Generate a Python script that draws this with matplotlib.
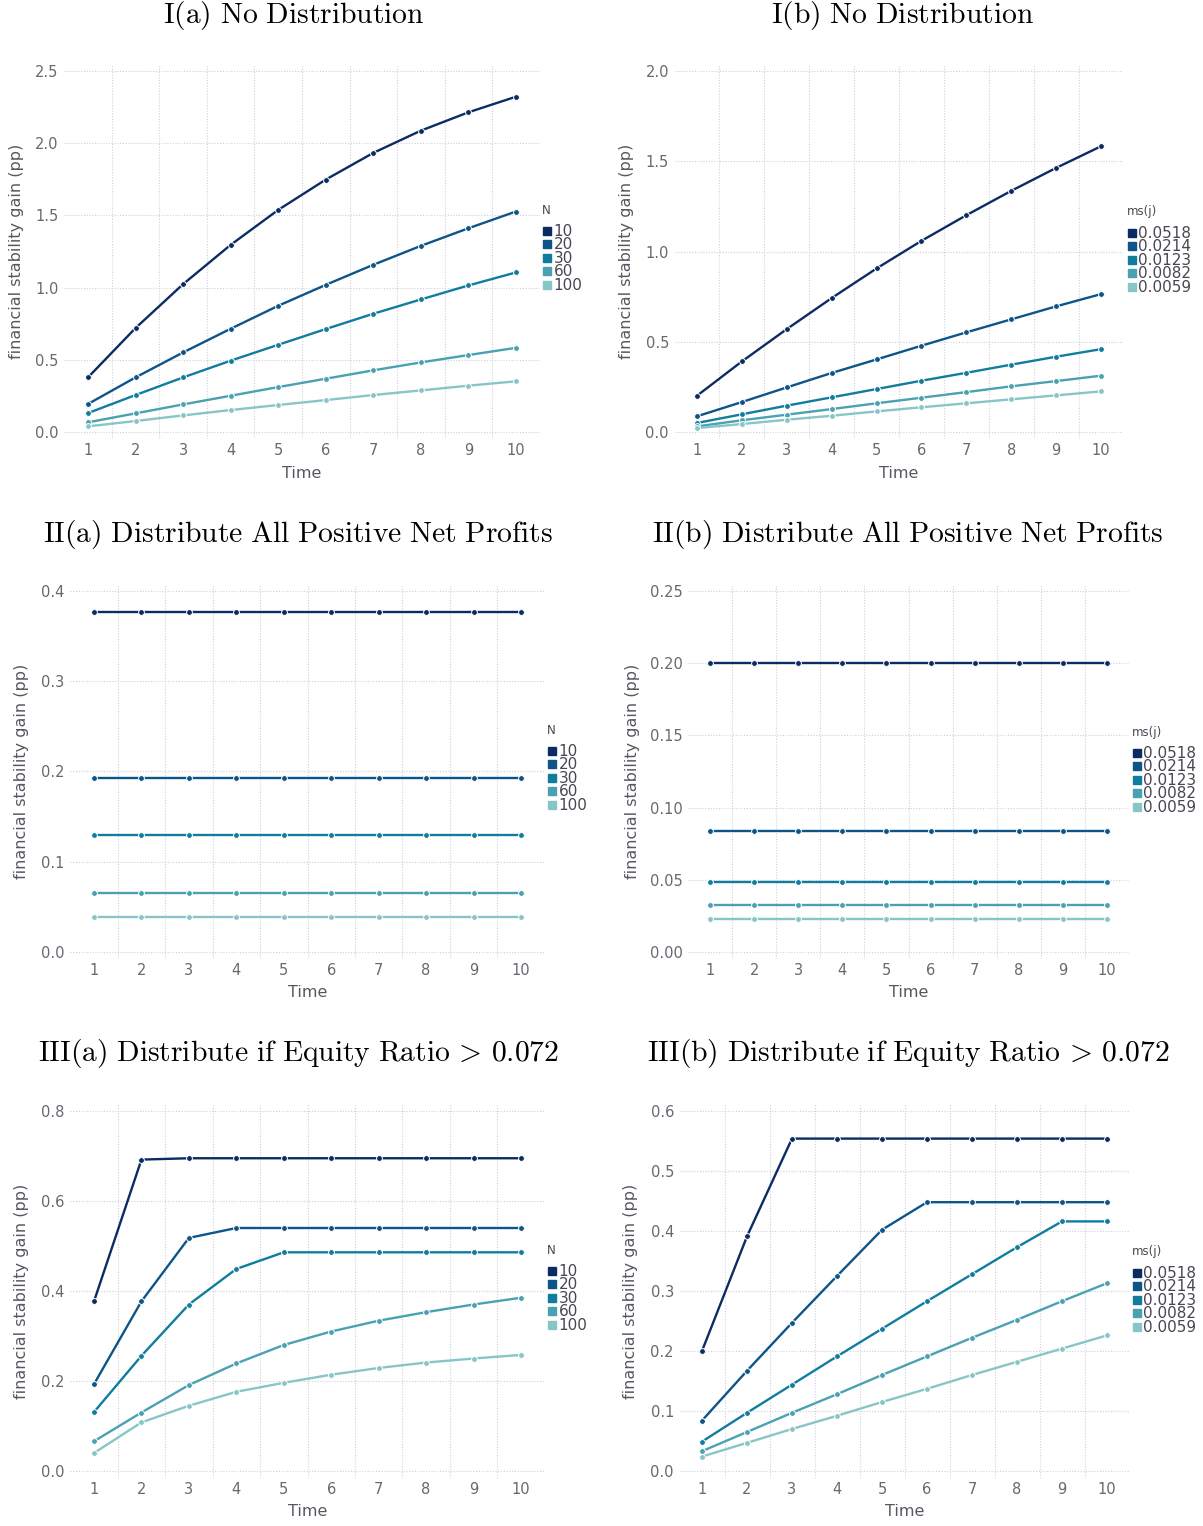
import matplotlib
matplotlib.use("Agg")
import matplotlib.pyplot as plt
from matplotlib.lines import Line2D
import numpy as np

plt.rcParams['mathtext.fontset'] = 'cm'
plt.rcParams['font.family'] = ['DejaVu Sans']

time = [1, 2, 3, 4, 5, 6, 7, 8, 9, 10]

labels_N = ["10", "20", "30", "60", "100"]
labels_ms = ["0.0518", "0.0214", "0.0123", "0.0082", "0.0059"]
colors = ["#0b2b63", "#0d5488", "#107d9e", "#4aa1b2", "#88c5c7"]

# I(a) No Distribution (by N)
Ia_10 = [0.378, 0.720, 1.024, 1.296, 1.538, 1.748, 1.933, 2.087, 2.214, 2.322]
Ia_20 = [0.194, 0.378, 0.551, 0.715, 0.874, 1.019, 1.158, 1.289, 1.411, 1.527]
Ia_30 = [0.131, 0.256, 0.378, 0.494, 0.604, 0.713, 0.819, 0.918, 1.015, 1.105]
Ia_60 = [0.067, 0.129, 0.191, 0.251, 0.311, 0.369, 0.427, 0.482, 0.533, 0.583]
Ia_100 = [0.039, 0.076, 0.115, 0.152, 0.187, 0.221, 0.256, 0.288, 0.321, 0.351]

# I(b) No Distribution (by ms(j))
Ib_0518 = [0.201, 0.391, 0.570, 0.742, 0.906, 1.059, 1.201, 1.336, 1.463, 1.583]
Ib_0214 = [0.087, 0.166, 0.247, 0.327, 0.402, 0.478, 0.552, 0.624, 0.696, 0.764]
Ib_0123 = [0.050, 0.098, 0.146, 0.192, 0.238, 0.284, 0.328, 0.373, 0.417, 0.459]
Ib_0082 = [0.031, 0.065, 0.096, 0.127, 0.159, 0.190, 0.221, 0.253, 0.282, 0.312]
Ib_0059 = [0.022, 0.044, 0.068, 0.090, 0.114, 0.137, 0.159, 0.181, 0.203, 0.225]

# II(a) Distribute All Positive Net Profits (by N)
IIa_10 = [0.377] * 10
IIa_20 = [0.193] * 10
IIa_30 = [0.130] * 10
IIa_60 = [0.065] * 10
IIa_100 = [0.039] * 10

# II(b) Distribute All Positive Net Profits (by ms(j))
IIb_0518 = [0.200] * 10
IIb_0214 = [0.084] * 10
IIb_0123 = [0.0485] * 10
IIb_0082 = [0.0325] * 10
IIb_0059 = [0.023] * 10

# III(a) Distribute if Equity Ratio > 0.072 (by N)
IIIa_10 = [0.377, 0.692, 0.695, 0.695, 0.695, 0.695, 0.695, 0.695, 0.695, 0.695]
IIIa_20 = [0.193, 0.377, 0.518, 0.540, 0.540, 0.540, 0.540, 0.540, 0.540, 0.540]
IIIa_30 = [0.131, 0.256, 0.370, 0.449, 0.486, 0.486, 0.486, 0.486, 0.486, 0.486]
IIIa_60 = [0.066, 0.130, 0.191, 0.239, 0.280, 0.310, 0.334, 0.353, 0.370, 0.385]
IIIa_100 = [0.040, 0.108, 0.145, 0.176, 0.196, 0.214, 0.229, 0.241, 0.250, 0.258]

# III(b) Distribute if Equity Ratio > 0.072 (by ms(j))
IIIb_0518 = [0.200, 0.391, 0.554, 0.554, 0.554, 0.554, 0.554, 0.554, 0.554, 0.554]
IIIb_0214 = [0.084, 0.167, 0.247, 0.325, 0.402, 0.448, 0.448, 0.448, 0.448, 0.448]
IIIb_0123 = [0.049, 0.097, 0.144, 0.191, 0.237, 0.283, 0.328, 0.373, 0.416, 0.416]
IIIb_0082 = [0.033, 0.065, 0.097, 0.128, 0.160, 0.191, 0.222, 0.252, 0.283, 0.313]
IIIb_0059 = [0.024, 0.047, 0.070, 0.092, 0.115, 0.137, 0.160, 0.182, 0.204, 0.226]

W, H = 1203, 1526
fig = plt.figure(figsize=(W / 100, H / 100), dpi=100)
fig.patch.set_facecolor("white")

TICK_COLOR = "#6b6670"
GRID_COLOR = "#cfcfe0"
LEG_COLOR = "#4a4550"

panels = [
    dict(title=r"$\mathrm{I(a)\ No\ Distribution}$", series=[Ia_10, Ia_20, Ia_30, Ia_60, Ia_100],
         labels=labels_N, ltitle="N", yticks=[0, 0.5, 1.0, 1.5, 2.0, 2.5], fmt="{:.1f}",
         px=(88, 516), py=(432, 71), title_xy=(294, 15), ylab_x=17, leg=(542, 210)),
    dict(title=r"$\mathrm{I(b)\ No\ Distribution}$", series=[Ib_0518, Ib_0214, Ib_0123, Ib_0082, Ib_0059],
         labels=labels_ms, ltitle="ms(j)", yticks=[0, 0.5, 1.0, 1.5, 2.0], fmt="{:.1f}",
         px=(697, 1101), py=(432, 71), title_xy=(903, 15), ylab_x=627, leg=(1127, 212)),
    dict(title=r"$\mathrm{II(a)\ Distribute\ All\ Positive\ Net\ Profits}$",
         series=[IIa_10, IIa_20, IIa_30, IIa_60, IIa_100],
         labels=labels_N, ltitle="N", yticks=[0, 0.1, 0.2, 0.3, 0.4], fmt="{:.1f}",
         px=(94, 521), py=(952, 591), title_xy=(298, 535), ylab_x=22, leg=(547, 730)),
    dict(title=r"$\mathrm{II(b)\ Distribute\ All\ Positive\ Net\ Profits}$",
         series=[IIb_0518, IIb_0214, IIb_0123, IIb_0082, IIb_0059],
         labels=labels_ms, ltitle="ms(j)", yticks=[0, 0.05, 0.10, 0.15, 0.20, 0.25], fmt="{:.2f}",
         px=(710, 1107), py=(952, 591), title_xy=(908, 535), ylab_x=632, leg=(1132, 732)),
    dict(title=r"$\mathrm{III(a)\ Distribute\ if\ Equity\ Ratio}\,>\,0.072$",
         series=[IIIa_10, IIIa_20, IIIa_30, IIIa_60, IIIa_100],
         labels=labels_N, ltitle="N", yticks=[0, 0.2, 0.4, 0.6, 0.8], fmt="{:.1f}",
         px=(94, 521), py=(1471, 1111), title_xy=(299, 1054), ylab_x=22, leg=(547, 1250)),
    dict(title=r"$\mathrm{III(b)\ Distribute\ if\ Equity\ Ratio}\,>\,0.072$",
         series=[IIIb_0518, IIIb_0214, IIIb_0123, IIIb_0082, IIIb_0059],
         labels=labels_ms, ltitle="ms(j)", yticks=[0, 0.1, 0.2, 0.3, 0.4, 0.5, 0.6], fmt="{:.1f}",
         px=(702, 1107), py=(1471, 1111), title_xy=(908, 1054), ylab_x=631, leg=(1132, 1252)),
]

for p in panels:
    x1, x10 = p["px"]
    y0, ytop = p["py"]
    top = p["yticks"][-1]
    xmin, xmax = 0.5, 10.5
    ymin, ymax = -0.02 * top, 1.02 * top
    sx = (x10 - x1) / 9.0
    sy = (y0 - ytop) / top
    left = x1 - (1 - xmin) * sx
    right = x10 + (xmax - 10) * sx
    bottom = y0 + (0 - ymin) * sy
    topp = ytop - (ymax - top) * sy
    ax = fig.add_axes([left / W, 1 - bottom / H, (right - left) / W, (bottom - topp) / H])
    ax.set_xlim(xmin, xmax)
    ax.set_ylim(ymin, ymax)
    for s, c in zip(p["series"], colors):
        ax.plot(time, s, color=c, lw=1.7, marker="o", ms=4.2, mfc=c, mec="white", mew=0.7,
                solid_capstyle="round", zorder=3)
    for sp in ax.spines.values():
        sp.set_visible(False)
    ax.set_xticks(time)
    ax.set_xticks(np.arange(1.5, 10.0, 1.0), minor=True)
    ax.set_yticks(p["yticks"])
    ax.set_yticklabels([p["fmt"].format(v) for v in p["yticks"]])
    ax.tick_params(axis="both", which="both", length=0, colors=TICK_COLOR, labelsize=10.5)
    ax.tick_params(axis="x", pad=3)
    ax.tick_params(axis="y", pad=4)
    ax.grid(False)
    ax.xaxis.grid(True, which="minor", color=GRID_COLOR, ls=(0, (1, 1.5)), lw=0.8)
    ax.yaxis.grid(True, which="major", color=GRID_COLOR, ls=(0, (1, 1.5)), lw=0.8)
    ax.set_axisbelow(True)
    ax.set_xlabel("Time", color="#5a5560", fontsize=11.5)
    ax.xaxis.set_label_coords(0.5, -(y0 + 41 - bottom) / (bottom - topp))
    ax.set_ylabel("financial stability gain (pp)", color="#5a5560", fontsize=11.5)
    ax.yaxis.set_label_coords((p["ylab_x"] - left) / (right - left), 0.5)
    ax.yaxis.label.set_verticalalignment("center")
    ax.xaxis.label.set_verticalalignment("center")
    fig.text(p["title_xy"][0] / W, 1 - p["title_xy"][1] / H, p["title"], ha="center", va="center",
             fontsize=21.3, color="black")
    lx, ly = p["leg"]
    fig.text(lx / W, 1 - ly / H, p["ltitle"], ha="left", va="center", fontsize=8.5, color=LEG_COLOR)
    handles = [Line2D([], [], marker="s", ls="None", color=c, ms=6) for c in colors]
    lg = ax.legend(handles, p["labels"], loc="upper left",
                   bbox_to_anchor=(lx / W, 1 - (ly + 14) / H),
                   bbox_transform=fig.transFigure, frameon=False, borderpad=0,
                   handlelength=0.6, handletextpad=0.15, labelspacing=-0.1, borderaxespad=0,
                   fontsize=11)
    for t in lg.get_texts():
        t.set_color(LEG_COLOR)

fig.savefig("out.png", dpi=100, facecolor="white")
